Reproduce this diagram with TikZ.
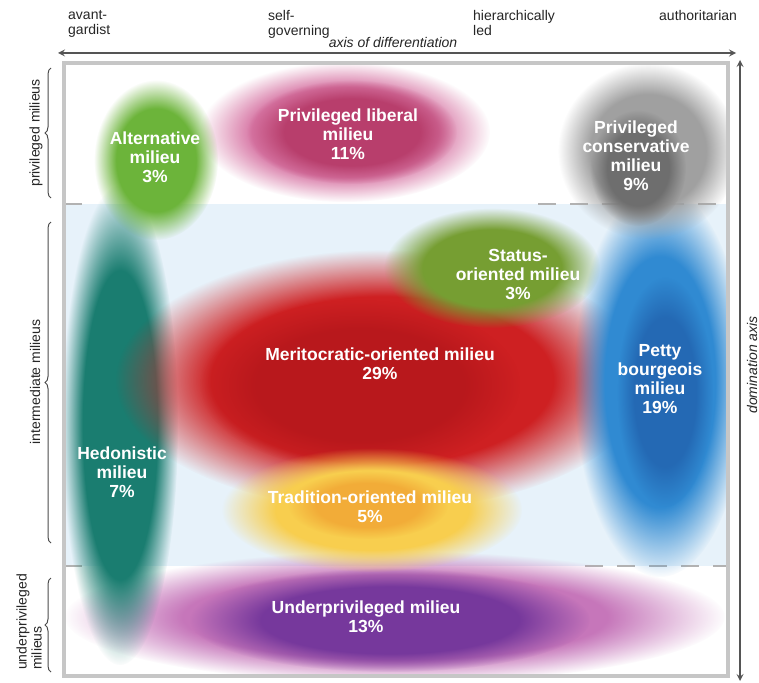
\documentclass[tikz,border=0pt]{standalone}
\usepackage{fontspec}
\setmainfont{Liberation Sans}
\usetikzlibrary{arrows, fadings, decorations.pathreplacing, positioning}
\tikzset{>=stealth}

\definecolor{axisgray}{RGB}{85,85,85}
\definecolor{framegray}{RGB}{198,198,198}
\definecolor{bandblue}{RGB}{222,237,248}
\definecolor{altgreen}{RGB}{108,180,58}
\definecolor{libpink}{RGB}{216,120,166}
\definecolor{librose}{RGB}{184,62,108}
\definecolor{consgray}{RGB}{160,160,160}
\definecolor{consdark}{RGB}{110,110,110}
\definecolor{hedteal}{RGB}{26,125,112}
\definecolor{statgreen}{RGB}{118,158,50}
\definecolor{merired}{RGB}{206,32,34}
\definecolor{meridark}{RGB}{184,24,28}
\definecolor{pettyblue}{RGB}{48,138,210}
\definecolor{pettydark}{RGB}{36,105,180}
\definecolor{tradyellow}{RGB}{248,206,78}
\definecolor{tradorange}{RGB}{242,172,56}
\definecolor{underpink}{RGB}{198,118,186}
\definecolor{underpurple}{RGB}{118,56,156}

\pgfdeclareradialshading{softblob}{\pgfpointorigin}{color(0bp)=(white); color(16bp)=(white); color(25bp)=(black); color(50bp)=(black)}
\pgfdeclarefading{soft}{\pgfuseshading{softblob}}

\tikzset{
  blob/.style={path fading=soft},
  milieu/.style={text=white, font=\fontsize{17.5}{19}\selectfont\bfseries, align=center},
  axislabel/.style={text=black!85, font=\fontsize{14}{15}\selectfont, align=left, inner sep=0pt},
  sidelabel/.style={text=black!85, font=\fontsize{14}{15}\selectfont, align=left, rotate=90, inner sep=0pt},
  bracket/.style={decorate, decoration={brace, amplitude=6pt}, line width=1pt, black!70},
  divider/.style={line width=1.5pt, black!30},
}

\begin{document}
\begin{tikzpicture}[x=1pt, y=-1pt]
\useasboundingbox (0,0) rectangle (759,682);
\fill[white] (0,0) rectangle (759,682);

\begin{scope}
\clip (64,63) rectangle (728,676);
\fill[bandblue, fill opacity=0.7] (64,204) rectangle (728,566);
\coordinate (d1a) at (64,204);
\coordinate (d1b) at (82,204);
\coordinate (d1c) at (538,204);
\coordinate (d1d) at (728,204);
\coordinate (d2a) at (64,566);
\coordinate (d2b) at (82,566);
\coordinate (d2c) at (585,566);
\coordinate (d2d) at (728,566);
\draw[divider] (d1a) -- (d1b);
\draw[divider, dash pattern=on 18pt off 14pt] (d1c) -- (d1d);
\draw[divider] (d2a) -- (d2b);
\draw[divider, dash pattern=on 18pt off 14pt] (d2c) -- (d2d);

\fill[underpink, blob] (395,617) ellipse (330 and 66);
\fill[underpurple, blob] (390,620) ellipse (200 and 52);
\fill[hedteal, blob] (120,425) ellipse (58 and 240);
\fill[merired, blob] (382,380) ellipse (266 and 130);
\fill[meridark, blob] (360,385) ellipse (160 and 85);
\fill[tradyellow, blob] (372,510) ellipse (150 and 62);
\fill[tradorange, blob] (368,505) ellipse (80 and 34);
\fill[statgreen, blob] (492,268) ellipse (108 and 60);
\fill[pettyblue, blob] (660,382) ellipse (86 and 195);
\fill[pettydark, blob] (665,392) ellipse (48 and 115);
\fill[libpink, blob] (345,132) ellipse (145 and 70);
\fill[librose, blob] (352,132) ellipse (105 and 52);
\fill[altgreen, blob] (156,160) ellipse (62 and 80);
\fill[consgray, blob] (648,151) ellipse (90 and 88);
\fill[consdark, blob] (638,168) ellipse (48 and 58);
\end{scope}

\draw[framegray, line width=4pt] (64,63) rectangle (728,676);

\node[milieu] (alt) at (155,157) {Alternative\\milieu\\3\%};
\node[milieu] (lib) at (348,134) {Privileged liberal\\milieu\\11\%};
\node[milieu] (cons) at (636,156) {Privileged\\conservative\\milieu\\9\%};
\node[milieu] (stat) at (518,274) {Status-\\oriented milieu\\3\%};
\node[milieu] (meri) at (380,364) {Meritocratic-oriented milieu\\29\%};
\node[milieu] (petty) at (660,379) {Petty\\bourgeois\\milieu\\19\%};
\node[milieu] (hed) at (122,472) {Hedonistic\\milieu\\7\%};
\node[milieu] (trad) at (370,507) {Tradition-oriented milieu\\5\%};
\node[milieu] (under) at (366,617) {Underprivileged milieu\\13\%};

\node[axislabel, anchor=north west] (avant) at (68,10) {avant-\\gardist};
\node[axislabel, anchor=north west] (selfgov) at (268,10) {self-\\governing};
\node[axislabel, anchor=north west] (hier) at (473,10) {hierarchically\\led};
\node[axislabel, anchor=north west] (auth) at (659,10) {authoritarian};
\node[axislabel, font=\fontsize{14}{15}\selectfont\itshape, anchor=base] (diff) at (393,48) {axis of differentiation};
\node[sidelabel, font=\fontsize{14}{15}\selectfont\itshape] (dom) at (752,365) {domination axis};

\coordinate (xl) at (58,53);
\coordinate (xr) at (736,53);
\coordinate (yt) at (740,60);
\coordinate (yb) at (740,681);
\draw[<->, axisgray, line width=2pt] (xl) -- (xr);
\draw[<->, axisgray, line width=2pt] (yt) -- (yb);

\node[sidelabel] (priv) at (36,133) {privileged milieus};
\node[sidelabel] (inter) at (35,382) {intermediate milieus};
\node[sidelabel] (underp) at (29,622) {underprivileged\\milieus};

\coordinate (b1t) at (51,68);
\coordinate (b1b) at (51,198);
\coordinate (b2t) at (51,222);
\coordinate (b2b) at (51,543);
\coordinate (b3t) at (51,578);
\coordinate (b3b) at (51,672);
\draw[bracket] (b1b) -- (b1t);
\draw[bracket] (b2b) -- (b2t);
\draw[bracket] (b3b) -- (b3t);
\end{tikzpicture}
\end{document}
